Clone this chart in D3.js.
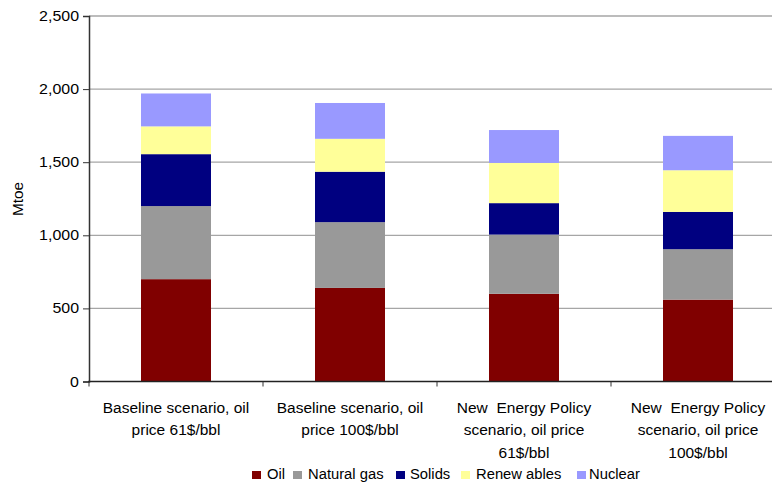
<!DOCTYPE html>
<html><head><meta charset="utf-8">
<script src="https://cdn.jsdelivr.net/npm/d3@7"></script>
<style>body{margin:0;background:#fff;}svg{display:block;font-family:"Liberation Sans",Arial,sans-serif;}</style>
</head><body>
<svg id="c" width="772" height="487"></svg>
<script>
const categories = [
  ["Baseline scenario, oil", "price 61$/bbl"],
  ["Baseline scenario, oil", "price 100$/bbl"],
  ["New  Energy Policy", "scenario, oil price", "61$/bbl"],
  ["New  Energy Policy", "scenario, oil price", "100$/bbl"]
];
const seriesNames = ["Oil", "Natural gas", "Solids", "Renew ables", "Nuclear"];
const colors = ["#800000", "#999999", "#000080", "#FFFF99", "#9999FF"];
const oil = [700, 640, 600, 560];
const naturalGas = [500, 450, 405, 345];
const solids = [355, 345, 215, 255];
const renewables = [190, 225, 275, 285];
const nuclear = [225, 245, 225, 235];
const yTicks = [0, 500, 1000, 1500, 2000, 2500];

const series = [oil, naturalGas, solids, renewables, nuclear];
const rows = categories.map((c, i) => {
  const r = {i};
  seriesNames.forEach((n, k) => r[n] = series[k][i]);
  return r;
});
const stacked = d3.stack().keys(seriesNames)(rows);

const svg = d3.select("#c");
const FS = 14.5, SX = 1.07;
const m = {l: 89, t: 16, b: 381.5, r: 785};
const x = d3.scaleBand().domain(d3.range(categories.length)).range([m.l, m.r]).paddingInner(0).paddingOuter(0);
const y = d3.scaleLinear().domain([0, 2500]).range([m.b, m.t]);

function stext(g, tx, ty, str, anchor, sx) {
  return g.append("text")
    .attr("transform", `translate(${tx},${ty}) scale(${sx || SX},1)`)
    .attr("text-anchor", anchor || "start").attr("font-size", FS).attr("fill", "#000")
    .attr("xml:space", "preserve").style("white-space", "pre").text(str);
}

// gridlines
svg.append("g").selectAll("line").data(yTicks.filter(t => t > 0)).join("line")
  .attr("x1", m.l).attr("x2", m.r).attr("y1", d => y(d)).attr("y2", d => y(d))
  .attr("stroke", "#a6a6a6").attr("stroke-width", 1.3);

// bars
const barW = 70;
svg.append("g").selectAll("g").data(stacked).join("g")
  .attr("fill", (d, k) => colors[k])
  .selectAll("rect").data(d => d).join("rect")
  .attr("x", (d, i) => x(i) + x.bandwidth() / 2 - barW / 2)
  .attr("width", barW)
  .attr("y", d => y(d[1]))
  .attr("height", d => y(d[0]) - y(d[1]));

// y axis
const yAxis = d3.axisLeft(y).tickValues(yTicks).tickSize(6).tickFormat("");
const gy = svg.append("g").attr("transform", `translate(${m.l},0)`).call(yAxis);
gy.select(".domain").attr("stroke", "#333").attr("stroke-width", 1.5);
gy.selectAll(".tick line").attr("stroke", "#333");
const fmt = d3.format(",");
yTicks.forEach(t => stext(svg, 79, y(t) + 5, fmt(t), "end", 1.1));

// x axis
const gx = svg.append("g").attr("transform", `translate(0,${m.b})`);
gx.append("line").attr("x1", m.l - 0.75).attr("x2", m.r).attr("stroke", "#222").attr("stroke-width", 1.5);
gx.selectAll("line.tk").data(d3.range(categories.length + 1)).join("line").attr("class", "tk")
  .attr("x1", i => m.l + i * x.bandwidth()).attr("x2", i => m.l + i * x.bandwidth())
  .attr("y1", 0).attr("y2", 5).attr("stroke", "#333");

const lab = svg.append("g");
categories.forEach((lines, i) => {
  lines.forEach((ln, j) => stext(lab, x(i) + x.bandwidth() / 2, 412.5 + j * 22.5, ln, "middle"));
});

// y title
svg.append("text").attr("transform", "translate(23,199) rotate(-90) scale(1.06,1)")
  .attr("text-anchor", "middle").attr("font-size", FS).text("Mtoe");

// legend
const legX = [252, 293, 396, 461, 577];
const legT = [267, 308, 410, 476, 589];
const lg = svg.append("g");
seriesNames.forEach((n, k) => {
  lg.append("rect").attr("x", legX[k]).attr("y", 471).attr("width", 9).attr("height", 8).attr("fill", colors[k]);
  stext(lg, legT[k], 479, n, "start", 1.02);
});
</script>
</body></html>
